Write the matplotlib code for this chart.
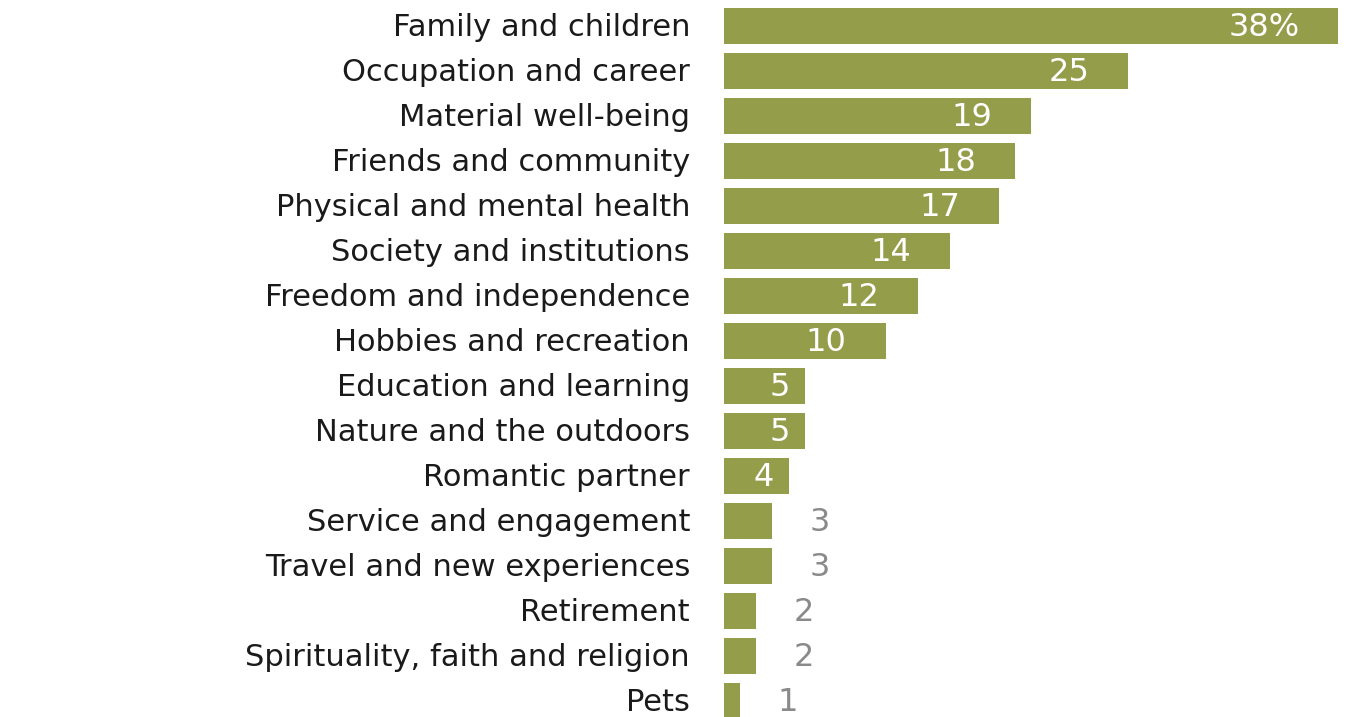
import matplotlib
matplotlib.use('Agg')
import matplotlib.pyplot as plt

categories = ['Family and children', 'Occupation and career', 'Material well-being',
              'Friends and community', 'Physical and mental health', 'Society and institutions',
              'Freedom and independence', 'Hobbies and recreation', 'Education and learning',
              'Nature and the outdoors', 'Romantic partner', 'Service and engagement',
              'Travel and new experiences', 'Retirement', 'Spirituality, faith and religion', 'Pets']
values = [38, 25, 19, 18, 17, 14, 12, 10, 5, 5, 4, 3, 3, 2, 2, 1]
value_labels = ['38%', '25', '19', '18', '17', '14', '12', '10', '5', '5', '4', '3', '3', '2', '2', '1']

W, H = 1350, 717
fig = plt.figure(figsize=(W / 100, H / 100), dpi=100)
ax = fig.add_axes([724 / W, 0, 1 - 724 / W, (717 - 3.5) / H])

bar_color = '#949d4a'
ypos = list(range(len(categories)))
ax.barh(ypos, values, height=0.8, color=bar_color)

ax.set_xlim(0, 38.74)
ax.set_ylim(15.356, -0.5)
ax.axis('off')

for i, (v, lab) in enumerate(zip(values, value_labels)):
    if v >= 4:
        # single digits sit closer to the bar end
        pad = 2.4 if len(lab) > 1 else 0.9
        ax.text(v - pad, i + 0.03, lab, ha='right', va='center', color='white', fontsize=23)
    else:
        ax.text(v + 2.3, i + 0.03, lab, ha='left', va='center', color='#8a8a8a', fontsize=23)

for i, cat in enumerate(categories):
    ax.text(-2.1, i + 0.03, cat, ha='right', va='center', color='#1a1a1a', fontsize=22,
            clip_on=False)

fig.savefig('out.png', dpi=100)
